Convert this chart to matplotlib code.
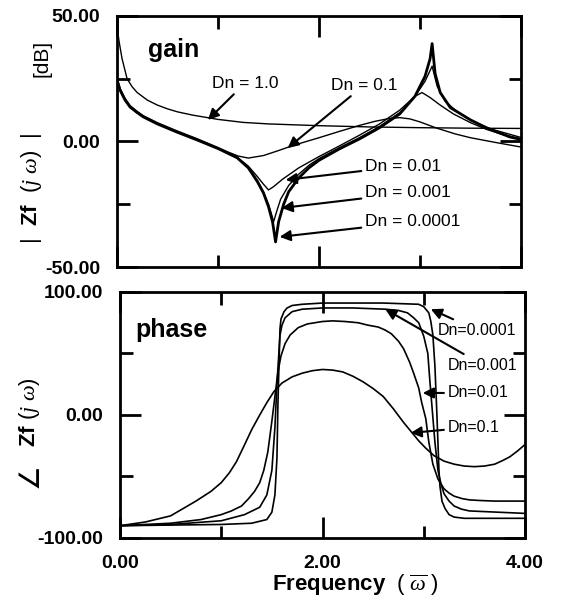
import matplotlib.pyplot as plt
from matplotlib.ticker import MultipleLocator, FormatStrFormatter

plt.rcParams['font.family'] = ['Liberation Sans', 'DejaVu Sans']
plt.rcParams['mathtext.fontset'] = 'custom'
plt.rcParams['mathtext.rm'] = 'Liberation Sans'
plt.rcParams['mathtext.it'] = 'Liberation Serif:italic'
plt.rcParams['mathtext.bf'] = 'Liberation Sans:bold'

# gain |Zf(jw)| [dB]
g10_x = [0.0, 0.02, 0.05, 0.1, 0.15, 0.2, 0.3, 0.4, 0.5, 0.6, 0.75, 1.0, 1.25, 1.5, 2.0, 2.5,
         3.0, 3.5, 4.0]
g10_y = [46, 40, 33, 25, 21.8, 19.5, 16.5, 14.5, 13, 11.8, 10.5, 8.8, 7.6, 7.0, 6.3, 5.8,
         5.5, 5.3, 5.2]

g01_x = [0.0, 0.03, 0.08, 0.13, 0.2, 0.26, 0.4, 0.59, 0.8, 1.0, 1.1, 1.2, 1.3, 1.45, 1.6, 1.75,
         2.0, 2.2, 2.4, 2.55, 2.7, 2.8, 2.9, 3.0, 3.16, 3.35, 3.5, 3.75, 4.0]
g01_y = [25.5, 21.2, 17.2, 14.3, 12.0, 10.3, 7.5, 4.3, 1.0, -2.4, -4.2, -5.8, -6.6, -5.6, -3.6,
         -1.5, 1.5, 4.0, 6.4, 8.0, 9.2, 9.5, 9.0, 7.8, 5.4, 3.0, 1.5, -0.4, -2.2]

g001_x = [0.0, 0.03, 0.08, 0.13, 0.2, 0.26, 0.4, 0.59, 0.8, 1.0, 1.19, 1.3, 1.39, 1.45, 1.5,
          1.55, 1.64, 1.8, 2.0, 2.2, 2.4, 2.6, 2.8, 2.95, 3.02, 3.1, 3.2, 3.33, 3.5, 3.66,
          3.8, 4.0]
g001_y = [24.5, 20.5, 16.5, 13.7, 11.5, 9.8, 7.0, 3.8, 0.5, -2.8, -6.3, -9.8, -14, -17, -19.3,
          -18, -15, -10.5, -6, -1.8, 2.5, 7, 12.5, 18, 19.5, 17.5, 14.5, 11, 7.5, 4.8,
          3, 1.0]

g0001_x = [0.0, 0.03, 0.08, 0.13, 0.2, 0.26, 0.4, 0.59, 0.8, 1.0, 1.19, 1.3, 1.39, 1.45, 1.5,
           1.53, 1.55, 1.58, 1.62, 1.7, 1.8, 1.9, 2.0, 2.2, 2.4, 2.6, 2.8, 2.95, 3.05, 3.12,
           3.17, 3.25, 3.35, 3.5, 3.7, 4.0]
g0001_y = [24.5, 20.5, 16.5, 13.7, 11.5, 9.8, 7.0, 3.8, 0.5, -2.8, -6.3, -10.3, -15.5, -20, -25,
           -29, -32, -28, -23, -17.5, -13, -9.5, -6.8, -2.5, 1.5, 6, 11.5, 18, 24, 30,
           22, 16, 12.5, 8.5, 5, 1.6]

g00001_x = [0.0, 0.03, 0.08, 0.13, 0.2, 0.26, 0.4, 0.59, 0.8, 1.0, 1.19, 1.3, 1.39, 1.45, 1.5,
            1.54, 1.57, 1.6, 1.65, 1.7, 1.8, 1.9, 2.0, 2.2, 2.4, 2.6, 2.8, 2.95, 3.05, 3.1,
            3.12, 3.15, 3.2, 3.3, 3.5, 3.66, 3.89, 4.0]
g00001_y = [24.5, 20.5, 16.5, 13.7, 11.5, 9.8, 7.0, 3.8, 0.5, -2.8, -6.5, -10.5, -16, -20.5, -26,
            -32, -40, -32, -25, -20, -14.5, -10.5, -7.5, -3, 1, 5.5, 11, 18, 26, 33,
            39, 27, 19.5, 13.5, 8.6, 5.4, 1.8, 0.8]

# phase [deg]
p01_x = [0, 0.25, 0.5, 0.75, 0.9, 1.0, 1.08, 1.15, 1.22, 1.3, 1.38, 1.45, 1.52, 1.6, 1.7,
         1.8, 1.9, 2.0, 2.1, 2.2, 2.3, 2.4, 2.5, 2.6, 2.7, 2.8, 2.88, 2.95, 3.02, 3.1,
         3.2, 3.3, 3.4, 3.5, 3.6, 3.7, 3.78, 3.85, 3.93, 4.0]
p01_y = [-90, -87, -82, -70, -62, -55, -47, -38, -26, -12, 0, 10, 19, 26, 31,
         34, 36, 37, 36.5, 35, 31.5, 27, 21.5, 15, 5, -6, -14, -21, -27, -33,
         -37.5, -40, -41.5, -42, -41.5, -40, -37, -34, -29, -24]

p001_x = [0, 0.5, 0.8, 1.0, 1.1, 1.2, 1.27, 1.33, 1.38, 1.42, 1.46, 1.5, 1.53, 1.56, 1.59,
          1.63, 1.68, 1.76, 1.85, 2.0, 2.1, 2.22, 2.35, 2.45, 2.55, 2.62, 2.68, 2.75, 2.8,
          2.86, 2.9, 2.95, 2.98, 3.02, 3.05, 3.09, 3.14, 3.2, 3.25, 3.3, 3.38, 3.45, 3.55,
          3.7, 4.0]
p001_y = [-90, -88, -85, -81, -78, -74, -68, -62, -55, -45, -30, -5, 15, 35, 48,
          58, 65, 71, 74, 76, 76.5, 76, 75, 73, 71.5, 69, 66, 60, 54,
          43, 34, 22, 10, -3, -22, -40, -52, -60, -63.5, -66, -68, -69, -69.5,
          -70, -70]

p0001_x = [0, 0.5, 1.0, 1.23, 1.38, 1.45, 1.5, 1.53, 1.55, 1.58, 1.6, 1.63, 1.7, 1.8, 2.0,
           2.3, 2.62, 2.75, 2.84, 2.9, 2.95, 3.0, 3.04, 3.06, 3.09, 3.11, 3.14, 3.17, 3.2,
           3.25, 3.3, 3.37, 3.45, 4.0]
p0001_y = [-90, -89, -86, -81, -75, -65, -45, -10, 25, 65, 73, 79, 84, 86, 87,
           87, 86, 85, 83, 79, 75, 64, 50, 28, -2, -22, -45, -56, -64,
           -70, -74, -76.5, -78, -80]

p00001_x = [0, 0.5, 1.0, 1.3, 1.45, 1.5, 1.53, 1.55, 1.56, 1.58, 1.59, 1.62, 1.65, 1.7, 1.8,
            2.0, 2.6, 2.95, 3.0, 3.05, 3.07, 3.09, 3.11, 3.13, 3.15, 3.16, 3.18, 3.21, 3.25,
            3.3, 3.4, 4.0]
p00001_y = [-90, -89.5, -89, -88, -85, -79, -65, -35, 10, 70, 78, 84, 87, 89, 90,
            91, 91, 90, 88, 83, 76, 65, 40, 0, -45, -58, -70, -76, -81,
            -83, -84, -84]

# label text, arrow tip, text position
gain_notes = [('Dn = 1.0', (0.90, 8.6), (0.94, 23.3)),
              ('Dn = 0.1', (1.69, -2.6), (2.12, 22.5)),
              ('Dn = 0.01', (1.67, -15.3), (2.46, -9.8)),
              ('Dn = 0.001', (1.63, -26.5), (2.46, -20.5)),
              ('Dn = 0.0001', (1.61, -38.0), (2.46, -32.0))]
phase_notes = [('Dn=0.0001', (3.07, 86), (3.14, 69)),
               ('Dn=0.001', (2.62, 86), (3.24, 40.6)),
               ('Dn=0.01', (2.99, 17.9), (3.24, 17.9)),
               ('Dn=0.1', (2.87, -14.6), (3.24, -9.8))]


def style_axes(ax, ylim, ymajor, yminor):
    ax.set_xlim(0, 4)
    ax.set_ylim(*ylim)
    ax.xaxis.set_major_locator(MultipleLocator(2))
    ax.xaxis.set_minor_locator(MultipleLocator(1))
    ax.yaxis.set_major_locator(MultipleLocator(ymajor))
    ax.yaxis.set_minor_locator(MultipleLocator(yminor))
    ax.xaxis.set_major_formatter(FormatStrFormatter('%.2f'))
    ax.yaxis.set_major_formatter(FormatStrFormatter('%.2f'))
    ax.tick_params(which='both', direction='in', top=True, right=True, width=2)
    ax.tick_params(which='major', length=15, pad=12, labelsize=14)
    ax.tick_params(which='minor', length=9)
    for s in ax.spines.values():
        s.set_linewidth(2)
    for lab in ax.get_xticklabels() + ax.get_yticklabels():
        lab.set_fontweight('bold')


fig = plt.figure(figsize=(5.66, 6.03), dpi=100)
ax1 = fig.add_axes([0.2067, 0.5572, 0.7138, 0.4163])
ax2 = fig.add_axes([0.2120, 0.1078, 0.7156, 0.4080])

ax1.plot(g10_x, g10_y, color='k', lw=1.0)
ax1.plot(g01_x, g01_y, color='k', lw=1.0)
ax1.plot(g001_x, g001_y, color='k', lw=1.0)
ax1.plot(g0001_x, g0001_y, color='k', lw=1.0)
ax1.plot(g00001_x, g00001_y, color='k', lw=2.0)
style_axes(ax1, (-50, 50), 50, 25)
ax1.tick_params(labelbottom=False)
ax1.text(0.31, 33.7, 'gain', fontsize=18, fontweight='bold', va='baseline')

for p_x, p_y in [(p01_x, p01_y), (p001_x, p001_y), (p0001_x, p0001_y), (p00001_x, p00001_y)]:
    ax2.plot(p_x, p_y, color='k', lw=1.2)
style_axes(ax2, (-100, 100), 100, 50)
ax2.text(0.15, 63.4, 'phase', fontsize=18, fontweight='bold', va='baseline')

arrow = dict(arrowstyle='-|>', color='k', lw=1.5, mutation_scale=16, shrinkA=1, shrinkB=0)
for txt, tip, pos in gain_notes:
    ax1.annotate(txt, xy=tip, xytext=pos, ha='left', va='center', fontsize=12.5, arrowprops=arrow)
for txt, tip, pos in phase_notes:
    ax2.annotate(txt, xy=tip, xytext=pos, ha='left', va='center', fontsize=11.5, arrowprops=arrow)

fig.text(42 / 566, 1 - 58 / 603, '[dB]', rotation=90, ha='center', va='center', fontsize=15)
fig.text(32 / 566, 1 - 188 / 603, r'|  $\mathbf{Zf}$  $(j\ \omega)$  |', rotation=90,
         ha='center', va='center', fontsize=16)
fig.text(30 / 566, 1 - 412 / 603, r'$\mathbf{Zf}$ $(j\ \omega)$', rotation=90,
         ha='center', va='center', fontsize=16)
fig.text(30 / 566, 1 - 476 / 603, '\u2220', rotation=90, ha='center', va='center',
         fontsize=20, family='DejaVu Sans')
fig.text(355 / 566, 1 - 585 / 603, r'Frequency  $(\ \overline{\omega}\ )$', ha='center',
         va='center', fontsize=16, fontweight='bold')

fig.savefig('out.png', dpi=100)
